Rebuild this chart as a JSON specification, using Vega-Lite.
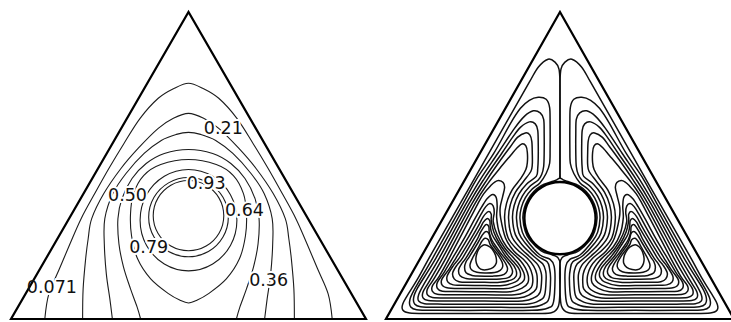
{
"$schema": "https://vega.github.io/schema/vega-lite/v6.json",
"background": "white",
"padding": {"left": 6, "top": 7, "right": 0, "bottom": 0},
"spacing": 10,
"config": {"view": {"stroke": null}},
"resolve": {"scale": {"x": "independent", "y": "independent"}},
"datasets": {
"frame": [{"g":"t","x":-176,"y":0},{"g":"t","x":176,"y":0},{"g":"t","x":0,"y":306}],
"lloops": [
{"g":"cyl","x":35,"y":103},{"g":"cyl","x":30.3,"y":120.5},{"g":"cyl","x":17.5,"y":133.3},{"g":"cyl","x":0,"y":138},{"g":"cyl","x":-17.5,"y":133.3},{"g":"cyl","x":-30.3,"y":120.5},{"g":"cyl","x":-35,"y":103},{"g":"cyl","x":-30.3,"y":85.5},{"g":"cyl","x":-17.5,"y":72.7},{"g":"cyl","x":0,"y":68},{"g":"cyl","x":17.5,"y":72.7},{"g":"cyl","x":30.3,"y":85.5},
{"g":"l93","x":39.5,"y":101.5},{"g":"l93","x":34.2,"y":121.3},{"g":"l93","x":19.75,"y":135.7},{"g":"l93","x":0,"y":141},{"g":"l93","x":-19.75,"y":135.7},{"g":"l93","x":-34.2,"y":121.3},{"g":"l93","x":-39.5,"y":101.5},{"g":"l93","x":-34.2,"y":81.8},{"g":"l93","x":-19.75,"y":67.3},{"g":"l93","x":0,"y":62},{"g":"l93","x":19.75,"y":67.3},{"g":"l93","x":34.2,"y":81.8},
{"g":"l79","x":48,"y":98.5},{"g":"l79","x":41.6,"y":123.8},{"g":"l79","x":24,"y":142.2},{"g":"l79","x":0,"y":149},{"g":"l79","x":-24,"y":142.2},{"g":"l79","x":-41.6,"y":123.8},{"g":"l79","x":-48,"y":98.5},{"g":"l79","x":-41.6,"y":73.3},{"g":"l79","x":-24,"y":54.8},{"g":"l79","x":0,"y":48},{"g":"l79","x":24,"y":54.8},{"g":"l79","x":41.6,"y":73.3},
{"g":"l64","x":0,"y":159},{"g":"l64","x":27.5,"y":154},{"g":"l64","x":44.5,"y":143},{"g":"l64","x":54.5,"y":125},{"g":"l64","x":57.5,"y":105},{"g":"l64","x":56.5,"y":83},{"g":"l64","x":50.5,"y":60},{"g":"l64","x":37.5,"y":40},{"g":"l64","x":19.5,"y":25},{"g":"l64","x":8,"y":18.5},{"g":"l64","x":0,"y":16},{"g":"l64","x":-8,"y":18.5},{"g":"l64","x":-19.5,"y":25},{"g":"l64","x":-37.5,"y":40},{"g":"l64","x":-50.5,"y":60},{"g":"l64","x":-56.5,"y":83},{"g":"l64","x":-57.5,"y":105},{"g":"l64","x":-54.5,"y":125},{"g":"l64","x":-44.5,"y":143},{"g":"l64","x":-27.5,"y":154}
],
"larch": [
{"g":"l071","x":-142.5,"y":0},{"g":"l071","x":-138.5,"y":25},{"g":"l071","x":-128,"y":50},{"g":"l071","x":-117.5,"y":75},{"g":"l071","x":-106.5,"y":100},{"g":"l071","x":-93,"y":125},{"g":"l071","x":-79,"y":150},{"g":"l071","x":-64,"y":175},{"g":"l071","x":-48,"y":200},{"g":"l071","x":-30,"y":220},{"g":"l071","x":-14,"y":230},{"g":"l071","x":0,"y":235},{"g":"l071","x":14,"y":230},{"g":"l071","x":30,"y":220},{"g":"l071","x":48,"y":200},{"g":"l071","x":64,"y":175},{"g":"l071","x":79,"y":150},{"g":"l071","x":93,"y":125},{"g":"l071","x":106.5,"y":100},{"g":"l071","x":117.5,"y":75},{"g":"l071","x":128,"y":50},{"g":"l071","x":138.5,"y":25},{"g":"l071","x":142.5,"y":0},
{"g":"l21","x":-105,"y":0},{"g":"l21","x":-104.5,"y":30},{"g":"l21","x":-102,"y":60},{"g":"l21","x":-99.5,"y":80},{"g":"l21","x":-96,"y":100},{"g":"l21","x":-84,"y":125},{"g":"l21","x":-67,"y":150},{"g":"l21","x":-50,"y":170},{"g":"l21","x":-30,"y":190},{"g":"l21","x":-15,"y":200},{"g":"l21","x":0,"y":205},{"g":"l21","x":15,"y":200},{"g":"l21","x":30,"y":190},{"g":"l21","x":50,"y":170},{"g":"l21","x":67,"y":150},{"g":"l21","x":84,"y":125},{"g":"l21","x":96,"y":100},{"g":"l21","x":99.5,"y":80},{"g":"l21","x":102,"y":60},{"g":"l21","x":104.5,"y":30},{"g":"l21","x":105,"y":0},
{"g":"l36","x":-75.5,"y":0},{"g":"l36","x":-78,"y":20},{"g":"l36","x":-81.5,"y":45},{"g":"l36","x":-83.5,"y":75},{"g":"l36","x":-83,"y":100},{"g":"l36","x":-75,"y":125},{"g":"l36","x":-62,"y":145},{"g":"l36","x":-44,"y":165},{"g":"l36","x":-27,"y":178},{"g":"l36","x":-12,"y":184},{"g":"l36","x":0,"y":186},{"g":"l36","x":12,"y":184},{"g":"l36","x":27,"y":178},{"g":"l36","x":44,"y":165},{"g":"l36","x":62,"y":145},{"g":"l36","x":75,"y":125},{"g":"l36","x":83,"y":100},{"g":"l36","x":83.5,"y":75},{"g":"l36","x":81.5,"y":45},{"g":"l36","x":78,"y":20},{"g":"l36","x":75.5,"y":0},
{"g":"l50","x":-47.5,"y":0},{"g":"l50","x":-51,"y":12},{"g":"l50","x":-57.5,"y":30},{"g":"l50","x":-64.5,"y":52},{"g":"l50","x":-69,"y":75},{"g":"l50","x":-70,"y":100},{"g":"l50","x":-66,"y":120},{"g":"l50","x":-56,"y":140},{"g":"l50","x":-42,"y":155},{"g":"l50","x":-24,"y":165},{"g":"l50","x":0,"y":169},{"g":"l50","x":24,"y":165},{"g":"l50","x":42,"y":155},{"g":"l50","x":56,"y":140},{"g":"l50","x":66,"y":120},{"g":"l50","x":70,"y":100},{"g":"l50","x":69,"y":75},{"g":"l50","x":64.5,"y":52},{"g":"l50","x":57.5,"y":30},{"g":"l50","x":51,"y":12},{"g":"l50","x":47.5,"y":0}
],
"llab": [
{"t":"0.21","x":34.5,"y":189.5},{"t":"0.93","x":17.5,"y":135},{"t":"0.50","x":-60.5,"y":123},{"t":"0.64","x":55.5,"y":108},{"t":"0.79","x":-39.5,"y":70.5},{"t":"0.071","x":-135.5,"y":30.5},{"t":"0.36","x":79.5,"y":37.5}
],
"rcyl": [
{"g":"c","x":36,"y":100.5},{"g":"c","x":31.2,"y":118.5},{"g":"c","x":18,"y":131.7},{"g":"c","x":0,"y":136.5},{"g":"c","x":-18,"y":131.7},{"g":"c","x":-31.2,"y":118.5},{"g":"c","x":-36,"y":100.5},{"g":"c","x":-31.2,"y":82.5},{"g":"c","x":-18,"y":69.3},{"g":"c","x":0,"y":64.5},{"g":"c","x":18,"y":69.3},{"g":"c","x":31.2,"y":82.5}
],
"rloops": [
{"g":"a0","x":-12,"y":259},{"g":"a0","x":-5,"y":256},{"g":"a0","x":-1,"y":249},{"g":"a0","x":0,"y":235},{"g":"a0","x":0,"y":190},{"g":"a0","x":0,"y":146},{"g":"a0","x":-2,"y":139.5},{"g":"a0","x":-8,"y":137},{"g":"a0","x":-19,"y":133},{"g":"a0","x":-26.5,"y":127},{"g":"a0","x":-32.5,"y":119},{"g":"a0","x":-36.2,"y":110.2},{"g":"a0","x":-37.5,"y":100.5},{"g":"a0","x":-35.2,"y":87.7},{"g":"a0","x":-30.7,"y":79},{"g":"a0","x":-19,"y":68},{"g":"a0","x":-8,"y":64},{"g":"a0","x":-2.5,"y":61.5},{"g":"a0","x":0,"y":55},{"g":"a0","x":0,"y":30},{"g":"a0","x":-1.5,"y":13},{"g":"a0","x":-8,"y":6.5},{"g":"a0","x":-25,"y":5.5},{"g":"a0","x":-76,"y":5.5},{"g":"a0","x":-130,"y":5.5},{"g":"a0","x":-152,"y":6},{"g":"a0","x":-159,"y":9},{"g":"a0","x":-159,"y":15},{"g":"a0","x":-154,"y":24},{"g":"a0","x":-144,"y":40},{"g":"a0","x":-130,"y":65},{"g":"a0","x":-101,"y":115},{"g":"a0","x":-72,"y":165},{"g":"a0","x":-49,"y":205},{"g":"a0","x":-31,"y":236},{"g":"a0","x":-22,"y":251},
{"g":"b0","x":12,"y":259},{"g":"b0","x":5,"y":256},{"g":"b0","x":1,"y":249},{"g":"b0","x":0,"y":235},{"g":"b0","x":0,"y":190},{"g":"b0","x":0,"y":146},{"g":"b0","x":2,"y":139.5},{"g":"b0","x":8,"y":137},{"g":"b0","x":19,"y":133},{"g":"b0","x":26.5,"y":127},{"g":"b0","x":32.5,"y":119},{"g":"b0","x":36.2,"y":110.2},{"g":"b0","x":37.5,"y":100.5},{"g":"b0","x":35.2,"y":87.7},{"g":"b0","x":30.7,"y":79},{"g":"b0","x":19,"y":68},{"g":"b0","x":8,"y":64},{"g":"b0","x":2.5,"y":61.5},{"g":"b0","x":0,"y":55},{"g":"b0","x":0,"y":30},{"g":"b0","x":1.5,"y":13},{"g":"b0","x":8,"y":6.5},{"g":"b0","x":25,"y":5.5},{"g":"b0","x":76,"y":5.5},{"g":"b0","x":130,"y":5.5},{"g":"b0","x":152,"y":6},{"g":"b0","x":159,"y":9},{"g":"b0","x":159,"y":15},{"g":"b0","x":154,"y":24},{"g":"b0","x":144,"y":40},{"g":"b0","x":130,"y":65},{"g":"b0","x":101,"y":115},{"g":"b0","x":72,"y":165},{"g":"b0","x":49,"y":205},{"g":"b0","x":31,"y":236},{"g":"b0","x":22,"y":251},
{"g":"a1","x":-22,"y":221},{"g":"a1","x":-14,"y":219},{"g":"a1","x":-10.5,"y":211},{"g":"a1","x":-10,"y":195},{"g":"a1","x":-10,"y":170},{"g":"a1","x":-10.5,"y":155},{"g":"a1","x":-14,"y":145},{"g":"a1","x":-20.3,"y":135.6},{"g":"a1","x":-28.6,"y":129.1},{"g":"a1","x":-35.1,"y":120.8},{"g":"a1","x":-39.1,"y":111},{"g":"a1","x":-40.5,"y":100.5},{"g":"a1","x":-38.1,"y":86.6},{"g":"a1","x":-32.8,"y":77.5},{"g":"a1","x":-20.5,"y":64},{"g":"a1","x":-10,"y":59.5},{"g":"a1","x":-6,"y":53},{"g":"a1","x":-5,"y":40},{"g":"a1","x":-6.5,"y":17},{"g":"a1","x":-12,"y":11},{"g":"a1","x":-28,"y":8.6},{"g":"a1","x":-76,"y":8.6},{"g":"a1","x":-125,"y":8.6},{"g":"a1","x":-145,"y":9.2},{"g":"a1","x":-151,"y":12},{"g":"a1","x":-152,"y":18},{"g":"a1","x":-148,"y":28},{"g":"a1","x":-128.6,"y":61},{"g":"a1","x":-98,"y":115},{"g":"a1","x":-84,"y":140},{"g":"a1","x":-67,"y":165},{"g":"a1","x":-50,"y":195},{"g":"a1","x":-40,"y":210},{"g":"a1","x":-31,"y":218},
{"g":"b1","x":22,"y":221},{"g":"b1","x":14,"y":219},{"g":"b1","x":10.5,"y":211},{"g":"b1","x":10,"y":195},{"g":"b1","x":10,"y":170},{"g":"b1","x":10.5,"y":155},{"g":"b1","x":14,"y":145},{"g":"b1","x":20.3,"y":135.6},{"g":"b1","x":28.6,"y":129.1},{"g":"b1","x":35.1,"y":120.8},{"g":"b1","x":39.1,"y":111},{"g":"b1","x":40.5,"y":100.5},{"g":"b1","x":38.1,"y":86.6},{"g":"b1","x":32.8,"y":77.5},{"g":"b1","x":20.5,"y":64},{"g":"b1","x":10,"y":59.5},{"g":"b1","x":6,"y":53},{"g":"b1","x":5,"y":40},{"g":"b1","x":6.5,"y":17},{"g":"b1","x":12,"y":11},{"g":"b1","x":28,"y":8.6},{"g":"b1","x":76,"y":8.6},{"g":"b1","x":125,"y":8.6},{"g":"b1","x":145,"y":9.2},{"g":"b1","x":151,"y":12},{"g":"b1","x":152,"y":18},{"g":"b1","x":148,"y":28},{"g":"b1","x":128.6,"y":61},{"g":"b1","x":98,"y":115},{"g":"b1","x":84,"y":140},{"g":"b1","x":67,"y":165},{"g":"b1","x":50,"y":195},{"g":"b1","x":40,"y":210},{"g":"b1","x":31,"y":218},
{"g":"a2","x":-27,"y":207.5},{"g":"a2","x":-20,"y":205.5},{"g":"a2","x":-16.5,"y":199},{"g":"a2","x":-16,"y":185},{"g":"a2","x":-16,"y":165},{"g":"a2","x":-16.5,"y":152},{"g":"a2","x":-18.5,"y":144},{"g":"a2","x":-22,"y":138.6},{"g":"a2","x":-31.1,"y":131.6},{"g":"a2","x":-38.1,"y":122.5},{"g":"a2","x":-42.5,"y":111.9},{"g":"a2","x":-44,"y":100.5},{"g":"a2","x":-41.4,"y":85.5},{"g":"a2","x":-35.2,"y":75.8},{"g":"a2","x":-23,"y":63},{"g":"a2","x":-13,"y":57},{"g":"a2","x":-10.5,"y":50},{"g":"a2","x":-9.5,"y":40},{"g":"a2","x":-11,"y":21},{"g":"a2","x":-16.5,"y":15},{"g":"a2","x":-31,"y":11.7},{"g":"a2","x":-76,"y":11.7},{"g":"a2","x":-122,"y":11.7},{"g":"a2","x":-141,"y":12.3},{"g":"a2","x":-147,"y":15},{"g":"a2","x":-148,"y":21},{"g":"a2","x":-144,"y":31},{"g":"a2","x":-125.3,"y":61},{"g":"a2","x":-95,"y":115},{"g":"a2","x":-80,"y":140},{"g":"a2","x":-63,"y":165},{"g":"a2","x":-46,"y":190},{"g":"a2","x":-36,"y":202},
{"g":"b2","x":27,"y":207.5},{"g":"b2","x":20,"y":205.5},{"g":"b2","x":16.5,"y":199},{"g":"b2","x":16,"y":185},{"g":"b2","x":16,"y":165},{"g":"b2","x":16.5,"y":152},{"g":"b2","x":18.5,"y":144},{"g":"b2","x":22,"y":138.6},{"g":"b2","x":31.1,"y":131.6},{"g":"b2","x":38.1,"y":122.5},{"g":"b2","x":42.5,"y":111.9},{"g":"b2","x":44,"y":100.5},{"g":"b2","x":41.4,"y":85.5},{"g":"b2","x":35.2,"y":75.8},{"g":"b2","x":23,"y":63},{"g":"b2","x":13,"y":57},{"g":"b2","x":10.5,"y":50},{"g":"b2","x":9.5,"y":40},{"g":"b2","x":11,"y":21},{"g":"b2","x":16.5,"y":15},{"g":"b2","x":31,"y":11.7},{"g":"b2","x":76,"y":11.7},{"g":"b2","x":122,"y":11.7},{"g":"b2","x":141,"y":12.3},{"g":"b2","x":147,"y":15},{"g":"b2","x":148,"y":21},{"g":"b2","x":144,"y":31},{"g":"b2","x":125.3,"y":61},{"g":"b2","x":95,"y":115},{"g":"b2","x":80,"y":140},{"g":"b2","x":63,"y":165},{"g":"b2","x":46,"y":190},{"g":"b2","x":36,"y":202},
{"g":"a3","x":-31,"y":196.5},{"g":"a3","x":-25,"y":194.5},{"g":"a3","x":-22.5,"y":188},{"g":"a3","x":-22,"y":175},{"g":"a3","x":-22,"y":160},{"g":"a3","x":-22.5,"y":150},{"g":"a3","x":-24,"y":142.1},{"g":"a3","x":-33.9,"y":134.4},{"g":"a3","x":-41.6,"y":124.5},{"g":"a3","x":-46.4,"y":112.9},{"g":"a3","x":-48,"y":100.5},{"g":"a3","x":-45.1,"y":84.1},{"g":"a3","x":-38.1,"y":73.8},{"g":"a3","x":-26,"y":62},{"g":"a3","x":-17.5,"y":55},{"g":"a3","x":-14.5,"y":48},{"g":"a3","x":-14,"y":40},{"g":"a3","x":-15.5,"y":24},{"g":"a3","x":-21,"y":18.3},{"g":"a3","x":-34,"y":14.8},{"g":"a3","x":-76,"y":14.8},{"g":"a3","x":-118,"y":14.8},{"g":"a3","x":-137,"y":15.3},{"g":"a3","x":-143,"y":18},{"g":"a3","x":-143,"y":24},{"g":"a3","x":-138,"y":34},{"g":"a3","x":-121.9,"y":61},{"g":"a3","x":-92,"y":115},{"g":"a3","x":-76.5,"y":140},{"g":"a3","x":-59,"y":165},{"g":"a3","x":-48,"y":181},{"g":"a3","x":-40,"y":191},
{"g":"b3","x":31,"y":196.5},{"g":"b3","x":25,"y":194.5},{"g":"b3","x":22.5,"y":188},{"g":"b3","x":22,"y":175},{"g":"b3","x":22,"y":160},{"g":"b3","x":22.5,"y":150},{"g":"b3","x":24,"y":142.1},{"g":"b3","x":33.9,"y":134.4},{"g":"b3","x":41.6,"y":124.5},{"g":"b3","x":46.4,"y":112.9},{"g":"b3","x":48,"y":100.5},{"g":"b3","x":45.1,"y":84.1},{"g":"b3","x":38.1,"y":73.8},{"g":"b3","x":26,"y":62},{"g":"b3","x":17.5,"y":55},{"g":"b3","x":14.5,"y":48},{"g":"b3","x":14,"y":40},{"g":"b3","x":15.5,"y":24},{"g":"b3","x":21,"y":18.3},{"g":"b3","x":34,"y":14.8},{"g":"b3","x":76,"y":14.8},{"g":"b3","x":118,"y":14.8},{"g":"b3","x":137,"y":15.3},{"g":"b3","x":143,"y":18},{"g":"b3","x":143,"y":24},{"g":"b3","x":138,"y":34},{"g":"b3","x":121.9,"y":61},{"g":"b3","x":92,"y":115},{"g":"b3","x":76.5,"y":140},{"g":"b3","x":59,"y":165},{"g":"b3","x":48,"y":181},{"g":"b3","x":40,"y":191},
{"g":"a4","x":-35,"y":185.5},{"g":"a4","x":-30.5,"y":183.5},{"g":"a4","x":-28.5,"y":177},{"g":"a4","x":-28,"y":165},{"g":"a4","x":-28,"y":154},{"g":"a4","x":-29.5,"y":147},{"g":"a4","x":-36.8,"y":137.3},{"g":"a4","x":-45,"y":126.5},{"g":"a4","x":-50.2,"y":114},{"g":"a4","x":-52,"y":100.5},{"g":"a4","x":-48.9,"y":82.7},{"g":"a4","x":-41,"y":71.8},{"g":"a4","x":-29.5,"y":61},{"g":"a4","x":-22,"y":53.5},{"g":"a4","x":-19,"y":46},{"g":"a4","x":-18.5,"y":40},{"g":"a4","x":-20,"y":27},{"g":"a4","x":-25.5,"y":21.5},{"g":"a4","x":-38,"y":17.9},{"g":"a4","x":-76,"y":17.9},{"g":"a4","x":-115,"y":17.9},{"g":"a4","x":-133,"y":18.4},{"g":"a4","x":-138.5,"y":21},{"g":"a4","x":-138.5,"y":27},{"g":"a4","x":-132.5,"y":37},{"g":"a4","x":-118.6,"y":61},{"g":"a4","x":-89,"y":115},{"g":"a4","x":-73,"y":140},{"g":"a4","x":-59,"y":160},{"g":"a4","x":-50,"y":172},{"g":"a4","x":-43,"y":181},
{"g":"b4","x":35,"y":185.5},{"g":"b4","x":30.5,"y":183.5},{"g":"b4","x":28.5,"y":177},{"g":"b4","x":28,"y":165},{"g":"b4","x":28,"y":154},{"g":"b4","x":29.5,"y":147},{"g":"b4","x":36.8,"y":137.3},{"g":"b4","x":45,"y":126.5},{"g":"b4","x":50.2,"y":114},{"g":"b4","x":52,"y":100.5},{"g":"b4","x":48.9,"y":82.7},{"g":"b4","x":41,"y":71.8},{"g":"b4","x":29.5,"y":61},{"g":"b4","x":22,"y":53.5},{"g":"b4","x":19,"y":46},{"g":"b4","x":18.5,"y":40},{"g":"b4","x":20,"y":27},{"g":"b4","x":25.5,"y":21.5},{"g":"b4","x":38,"y":17.9},{"g":"b4","x":76,"y":17.9},{"g":"b4","x":115,"y":17.9},{"g":"b4","x":133,"y":18.4},{"g":"b4","x":138.5,"y":21},{"g":"b4","x":138.5,"y":27},{"g":"b4","x":132.5,"y":37},{"g":"b4","x":118.6,"y":61},{"g":"b4","x":89,"y":115},{"g":"b4","x":73,"y":140},{"g":"b4","x":59,"y":160},{"g":"b4","x":50,"y":172},{"g":"b4","x":43,"y":181},
{"g":"a5","x":-38.5,"y":174.5},{"g":"a5","x":-34.5,"y":172.5},{"g":"a5","x":-33,"y":166},{"g":"a5","x":-33,"y":156},{"g":"a5","x":-34.5,"y":149},{"g":"a5","x":-39.6,"y":140.1},{"g":"a5","x":-48.5,"y":128.5},{"g":"a5","x":-54.1,"y":115},{"g":"a5","x":-56,"y":100.5},{"g":"a5","x":-52.6,"y":81.3},{"g":"a5","x":-43.8,"y":69.8},{"g":"a5","x":-33,"y":60.5},{"g":"a5","x":-26.5,"y":52.5},{"g":"a5","x":-23.5,"y":45},{"g":"a5","x":-23,"y":38},{"g":"a5","x":-24,"y":30},{"g":"a5","x":-30,"y":24.7},{"g":"a5","x":-42,"y":21},{"g":"a5","x":-76,"y":21},{"g":"a5","x":-112,"y":21},{"g":"a5","x":-129,"y":21.5},{"g":"a5","x":-134,"y":24},{"g":"a5","x":-134,"y":30},{"g":"a5","x":-127.5,"y":40},{"g":"a5","x":-115.2,"y":61},{"g":"a5","x":-86,"y":115},{"g":"a5","x":-73,"y":135},{"g":"a5","x":-61,"y":150},{"g":"a5","x":-50,"y":163},{"g":"a5","x":-44,"y":170},
{"g":"b5","x":38.5,"y":174.5},{"g":"b5","x":34.5,"y":172.5},{"g":"b5","x":33,"y":166},{"g":"b5","x":33,"y":156},{"g":"b5","x":34.5,"y":149},{"g":"b5","x":39.6,"y":140.1},{"g":"b5","x":48.5,"y":128.5},{"g":"b5","x":54.1,"y":115},{"g":"b5","x":56,"y":100.5},{"g":"b5","x":52.6,"y":81.3},{"g":"b5","x":43.8,"y":69.8},{"g":"b5","x":33,"y":60.5},{"g":"b5","x":26.5,"y":52.5},{"g":"b5","x":23.5,"y":45},{"g":"b5","x":23,"y":38},{"g":"b5","x":24,"y":30},{"g":"b5","x":30,"y":24.7},{"g":"b5","x":42,"y":21},{"g":"b5","x":76,"y":21},{"g":"b5","x":112,"y":21},{"g":"b5","x":129,"y":21.5},{"g":"b5","x":134,"y":24},{"g":"b5","x":134,"y":30},{"g":"b5","x":127.5,"y":40},{"g":"b5","x":115.2,"y":61},{"g":"b5","x":86,"y":115},{"g":"b5","x":73,"y":135},{"g":"b5","x":61,"y":150},{"g":"b5","x":50,"y":163},{"g":"b5","x":44,"y":170},
{"g":"a6","x":-62,"y":138},{"g":"a6","x":-57.5,"y":136},{"g":"a6","x":-56,"y":131},{"g":"a6","x":-58,"y":122},{"g":"a6","x":-60.5,"y":111},{"g":"a6","x":-60,"y":100.5},{"g":"a6","x":-55,"y":80.5},{"g":"a6","x":-46.7,"y":67.8},{"g":"a6","x":-37,"y":59.5},{"g":"a6","x":-31,"y":52},{"g":"a6","x":-28,"y":44},{"g":"a6","x":-27.5,"y":37},{"g":"a6","x":-29,"y":31.5},{"g":"a6","x":-34,"y":27.5},{"g":"a6","x":-46,"y":24.1},{"g":"a6","x":-76,"y":24.1},{"g":"a6","x":-109,"y":24.1},{"g":"a6","x":-124,"y":24.6},{"g":"a6","x":-129,"y":27.5},{"g":"a6","x":-129,"y":33},{"g":"a6","x":-122.5,"y":42},{"g":"a6","x":-111.8,"y":61},{"g":"a6","x":-91,"y":100},{"g":"a6","x":-83,"y":115},{"g":"a6","x":-77,"y":125},{"g":"a6","x":-70,"y":133},{"g":"a6","x":-66,"y":136.5},
{"g":"b6","x":62,"y":138},{"g":"b6","x":57.5,"y":136},{"g":"b6","x":56,"y":131},{"g":"b6","x":58,"y":122},{"g":"b6","x":60.5,"y":111},{"g":"b6","x":60,"y":100.5},{"g":"b6","x":55,"y":80.5},{"g":"b6","x":46.7,"y":67.8},{"g":"b6","x":37,"y":59.5},{"g":"b6","x":31,"y":52},{"g":"b6","x":28,"y":44},{"g":"b6","x":27.5,"y":37},{"g":"b6","x":29,"y":31.5},{"g":"b6","x":34,"y":27.5},{"g":"b6","x":46,"y":24.1},{"g":"b6","x":76,"y":24.1},{"g":"b6","x":109,"y":24.1},{"g":"b6","x":124,"y":24.6},{"g":"b6","x":129,"y":27.5},{"g":"b6","x":129,"y":33},{"g":"b6","x":122.5,"y":42},{"g":"b6","x":111.8,"y":61},{"g":"b6","x":91,"y":100},{"g":"b6","x":83,"y":115},{"g":"b6","x":77,"y":125},{"g":"b6","x":70,"y":133},{"g":"b6","x":66,"y":136.5},
{"g":"a7","x":-68,"y":124},{"g":"a7","x":-64.5,"y":121},{"g":"a7","x":-63.5,"y":112},{"g":"a7","x":-64,"y":100.5},{"g":"a7","x":-61,"y":85},{"g":"a7","x":-54,"y":72},{"g":"a7","x":-45,"y":63},{"g":"a7","x":-40,"y":58},{"g":"a7","x":-35,"y":51},{"g":"a7","x":-32,"y":43},{"g":"a7","x":-32.5,"y":36},{"g":"a7","x":-38,"y":31},{"g":"a7","x":-50,"y":27.2},{"g":"a7","x":-76,"y":27.2},{"g":"a7","x":-106,"y":27.3},{"g":"a7","x":-119,"y":27.7},{"g":"a7","x":-124,"y":30.5},{"g":"a7","x":-124,"y":36.5},{"g":"a7","x":-117.5,"y":46},{"g":"a7","x":-108.5,"y":61},{"g":"a7","x":-97,"y":80},{"g":"a7","x":-86,"y":100},{"g":"a7","x":-79,"y":112},{"g":"a7","x":-73.5,"y":120},
{"g":"b7","x":68,"y":124},{"g":"b7","x":64.5,"y":121},{"g":"b7","x":63.5,"y":112},{"g":"b7","x":64,"y":100.5},{"g":"b7","x":61,"y":85},{"g":"b7","x":54,"y":72},{"g":"b7","x":45,"y":63},{"g":"b7","x":40,"y":58},{"g":"b7","x":35,"y":51},{"g":"b7","x":32,"y":43},{"g":"b7","x":32.5,"y":36},{"g":"b7","x":38,"y":31},{"g":"b7","x":50,"y":27.2},{"g":"b7","x":76,"y":27.2},{"g":"b7","x":106,"y":27.3},{"g":"b7","x":119,"y":27.7},{"g":"b7","x":124,"y":30.5},{"g":"b7","x":124,"y":36.5},{"g":"b7","x":117.5,"y":46},{"g":"b7","x":108.5,"y":61},{"g":"b7","x":97,"y":80},{"g":"b7","x":86,"y":100},{"g":"b7","x":79,"y":112},{"g":"b7","x":73.5,"y":120},
{"g":"a8","x":-71,"y":115},{"g":"a8","x":-67.5,"y":112.5},{"g":"a8","x":-66.5,"y":106},{"g":"a8","x":-67.5,"y":97},{"g":"a8","x":-63.5,"y":84},{"g":"a8","x":-56,"y":71},{"g":"a8","x":-48,"y":62},{"g":"a8","x":-43,"y":56.5},{"g":"a8","x":-38.5,"y":50},{"g":"a8","x":-36,"y":44},{"g":"a8","x":-36.5,"y":38.5},{"g":"a8","x":-42,"y":34},{"g":"a8","x":-54,"y":30.3},{"g":"a8","x":-76,"y":30.3},{"g":"a8","x":-100,"y":30.5},{"g":"a8","x":-113,"y":30.8},{"g":"a8","x":-119,"y":33.5},{"g":"a8","x":-119.5,"y":39.5},{"g":"a8","x":-112,"y":50},{"g":"a8","x":-105.1,"y":61},{"g":"a8","x":-93.5,"y":80},{"g":"a8","x":-85,"y":95},{"g":"a8","x":-79.5,"y":105},{"g":"a8","x":-75,"y":112},
{"g":"b8","x":71,"y":115},{"g":"b8","x":67.5,"y":112.5},{"g":"b8","x":66.5,"y":106},{"g":"b8","x":67.5,"y":97},{"g":"b8","x":63.5,"y":84},{"g":"b8","x":56,"y":71},{"g":"b8","x":48,"y":62},{"g":"b8","x":43,"y":56.5},{"g":"b8","x":38.5,"y":50},{"g":"b8","x":36,"y":44},{"g":"b8","x":36.5,"y":38.5},{"g":"b8","x":42,"y":34},{"g":"b8","x":54,"y":30.3},{"g":"b8","x":76,"y":30.3},{"g":"b8","x":100,"y":30.5},{"g":"b8","x":113,"y":30.8},{"g":"b8","x":119,"y":33.5},{"g":"b8","x":119.5,"y":39.5},{"g":"b8","x":112,"y":50},{"g":"b8","x":105.1,"y":61},{"g":"b8","x":93.5,"y":80},{"g":"b8","x":85,"y":95},{"g":"b8","x":79.5,"y":105},{"g":"b8","x":75,"y":112},
{"g":"a9","x":-72.5,"y":107},{"g":"a9","x":-69.5,"y":104.5},{"g":"a9","x":-69.5,"y":98},{"g":"a9","x":-67,"y":87},{"g":"a9","x":-61,"y":75},{"g":"a9","x":-52,"y":62.5},{"g":"a9","x":-47,"y":57},{"g":"a9","x":-42,"y":51},{"g":"a9","x":-40,"y":46},{"g":"a9","x":-40.5,"y":41.5},{"g":"a9","x":-45,"y":37},{"g":"a9","x":-58,"y":33.4},{"g":"a9","x":-76,"y":33.4},{"g":"a9","x":-100,"y":33.6},{"g":"a9","x":-108,"y":34},{"g":"a9","x":-113.5,"y":37},{"g":"a9","x":-114,"y":43},{"g":"a9","x":-108,"y":53},{"g":"a9","x":-101.8,"y":61},{"g":"a9","x":-90,"y":80},{"g":"a9","x":-83,"y":92},{"g":"a9","x":-77.5,"y":102},
{"g":"b9","x":72.5,"y":107},{"g":"b9","x":69.5,"y":104.5},{"g":"b9","x":69.5,"y":98},{"g":"b9","x":67,"y":87},{"g":"b9","x":61,"y":75},{"g":"b9","x":52,"y":62.5},{"g":"b9","x":47,"y":57},{"g":"b9","x":42,"y":51},{"g":"b9","x":40,"y":46},{"g":"b9","x":40.5,"y":41.5},{"g":"b9","x":45,"y":37},{"g":"b9","x":58,"y":33.4},{"g":"b9","x":76,"y":33.4},{"g":"b9","x":100,"y":33.6},{"g":"b9","x":108,"y":34},{"g":"b9","x":113.5,"y":37},{"g":"b9","x":114,"y":43},{"g":"b9","x":108,"y":53},{"g":"b9","x":101.8,"y":61},{"g":"b9","x":90,"y":80},{"g":"b9","x":83,"y":92},{"g":"b9","x":77.5,"y":102},
{"g":"a10","x":-74,"y":100},{"g":"a10","x":-71,"y":98},{"g":"a10","x":-70.5,"y":92},{"g":"a10","x":-68.5,"y":84},{"g":"a10","x":-63,"y":75},{"g":"a10","x":-56,"y":64},{"g":"a10","x":-51,"y":58},{"g":"a10","x":-46,"y":52},{"g":"a10","x":-44,"y":47},{"g":"a10","x":-44.5,"y":42.5},{"g":"a10","x":-49,"y":39},{"g":"a10","x":-61,"y":36.5},{"g":"a10","x":-76,"y":36.5},{"g":"a10","x":-96,"y":36.7},{"g":"a10","x":-102,"y":37.1},{"g":"a10","x":-107,"y":40},{"g":"a10","x":-108.5,"y":46},{"g":"a10","x":-104,"y":54},{"g":"a10","x":-98.4,"y":61},{"g":"a10","x":-87,"y":80},{"g":"a10","x":-81,"y":90},{"g":"a10","x":-77.5,"y":96.5},
{"g":"b10","x":74,"y":100},{"g":"b10","x":71,"y":98},{"g":"b10","x":70.5,"y":92},{"g":"b10","x":68.5,"y":84},{"g":"b10","x":63,"y":75},{"g":"b10","x":56,"y":64},{"g":"b10","x":51,"y":58},{"g":"b10","x":46,"y":52},{"g":"b10","x":44,"y":47},{"g":"b10","x":44.5,"y":42.5},{"g":"b10","x":49,"y":39},{"g":"b10","x":61,"y":36.5},{"g":"b10","x":76,"y":36.5},{"g":"b10","x":96,"y":36.7},{"g":"b10","x":102,"y":37.1},{"g":"b10","x":107,"y":40},{"g":"b10","x":108.5,"y":46},{"g":"b10","x":104,"y":54},{"g":"b10","x":98.4,"y":61},{"g":"b10","x":87,"y":80},{"g":"b10","x":81,"y":90},{"g":"b10","x":77.5,"y":96.5},
{"g":"a11","x":-75,"y":94},{"g":"a11","x":-72,"y":92},{"g":"a11","x":-71.5,"y":86},{"g":"a11","x":-69,"y":79},{"g":"a11","x":-64.5,"y":72},{"g":"a11","x":-59,"y":64.5},{"g":"a11","x":-54.5,"y":59},{"g":"a11","x":-50,"y":53},{"g":"a11","x":-48,"y":48},{"g":"a11","x":-49,"y":44},{"g":"a11","x":-53,"y":41},{"g":"a11","x":-64,"y":39.6},{"g":"a11","x":-76,"y":39.6},{"g":"a11","x":-90,"y":39.8},{"g":"a11","x":-95,"y":40.3},{"g":"a11","x":-101,"y":43},{"g":"a11","x":-102.5,"y":49},{"g":"a11","x":-99.5,"y":55},{"g":"a11","x":-95,"y":61},{"g":"a11","x":-84.5,"y":78},{"g":"a11","x":-80,"y":87},
{"g":"b11","x":75,"y":94},{"g":"b11","x":72,"y":92},{"g":"b11","x":71.5,"y":86},{"g":"b11","x":69,"y":79},{"g":"b11","x":64.5,"y":72},{"g":"b11","x":59,"y":64.5},{"g":"b11","x":54.5,"y":59},{"g":"b11","x":50,"y":53},{"g":"b11","x":48,"y":48},{"g":"b11","x":49,"y":44},{"g":"b11","x":53,"y":41},{"g":"b11","x":64,"y":39.6},{"g":"b11","x":76,"y":39.6},{"g":"b11","x":90,"y":39.8},{"g":"b11","x":95,"y":40.3},{"g":"b11","x":101,"y":43},{"g":"b11","x":102.5,"y":49},{"g":"b11","x":99.5,"y":55},{"g":"b11","x":95,"y":61},{"g":"b11","x":84.5,"y":78},{"g":"b11","x":80,"y":87},
{"g":"a12","x":-75.5,"y":87},{"g":"a12","x":-72,"y":85.5},{"g":"a12","x":-70.5,"y":80},{"g":"a12","x":-68,"y":74},{"g":"a12","x":-62.5,"y":66.5},{"g":"a12","x":-58,"y":60},{"g":"a12","x":-54.5,"y":54.5},{"g":"a12","x":-53,"y":50},{"g":"a12","x":-54.5,"y":46},{"g":"a12","x":-59,"y":43.5},{"g":"a12","x":-68,"y":42.7},{"g":"a12","x":-76,"y":42.7},{"g":"a12","x":-84,"y":42.9},{"g":"a12","x":-89,"y":43.4},{"g":"a12","x":-95,"y":46},{"g":"a12","x":-96.5,"y":51.5},{"g":"a12","x":-95,"y":57},{"g":"a12","x":-91.7,"y":62},{"g":"a12","x":-83,"y":76},{"g":"a12","x":-79,"y":83},
{"g":"b12","x":75.5,"y":87},{"g":"b12","x":72,"y":85.5},{"g":"b12","x":70.5,"y":80},{"g":"b12","x":68,"y":74},{"g":"b12","x":62.5,"y":66.5},{"g":"b12","x":58,"y":60},{"g":"b12","x":54.5,"y":54.5},{"g":"b12","x":53,"y":50},{"g":"b12","x":54.5,"y":46},{"g":"b12","x":59,"y":43.5},{"g":"b12","x":68,"y":42.7},{"g":"b12","x":76,"y":42.7},{"g":"b12","x":84,"y":42.9},{"g":"b12","x":89,"y":43.4},{"g":"b12","x":95,"y":46},{"g":"b12","x":96.5,"y":51.5},{"g":"b12","x":95,"y":57},{"g":"b12","x":91.7,"y":62},{"g":"b12","x":83,"y":76},{"g":"b12","x":79,"y":83},
{"g":"a13","x":-76,"y":80.5},{"g":"a13","x":-72.5,"y":79},{"g":"a13","x":-70.5,"y":74},{"g":"a13","x":-66,"y":68},{"g":"a13","x":-61.5,"y":62},{"g":"a13","x":-58.5,"y":56.5},{"g":"a13","x":-58,"y":52},{"g":"a13","x":-60.5,"y":48.5},{"g":"a13","x":-66,"y":46.3},{"g":"a13","x":-76,"y":45.8},{"g":"a13","x":-84,"y":46.5},{"g":"a13","x":-89.5,"y":49},{"g":"a13","x":-91,"y":54},{"g":"a13","x":-88.3,"y":61},{"g":"a13","x":-82,"y":72},{"g":"a13","x":-79,"y":77.5},
{"g":"b13","x":76,"y":80.5},{"g":"b13","x":72.5,"y":79},{"g":"b13","x":70.5,"y":74},{"g":"b13","x":66,"y":68},{"g":"b13","x":61.5,"y":62},{"g":"b13","x":58.5,"y":56.5},{"g":"b13","x":58,"y":52},{"g":"b13","x":60.5,"y":48.5},{"g":"b13","x":66,"y":46.3},{"g":"b13","x":76,"y":45.8},{"g":"b13","x":84,"y":46.5},{"g":"b13","x":89.5,"y":49},{"g":"b13","x":91,"y":54},{"g":"b13","x":88.3,"y":61},{"g":"b13","x":82,"y":72},{"g":"b13","x":79,"y":77.5},
{"g":"a14","x":-76,"y":74},{"g":"a14","x":-70.5,"y":71.5},{"g":"a14","x":-66.5,"y":66.5},{"g":"a14","x":-64.5,"y":61},{"g":"a14","x":-64.5,"y":55.5},{"g":"a14","x":-67.5,"y":51.5},{"g":"a14","x":-73,"y":49.3},{"g":"a14","x":-78,"y":49},{"g":"a14","x":-82,"y":51},{"g":"a14","x":-84.5,"y":55.5},{"g":"a14","x":-85,"y":61},{"g":"a14","x":-83,"y":68},{"g":"a14","x":-80,"y":72},
{"g":"b14","x":76,"y":74},{"g":"b14","x":70.5,"y":71.5},{"g":"b14","x":66.5,"y":66.5},{"g":"b14","x":64.5,"y":61},{"g":"b14","x":64.5,"y":55.5},{"g":"b14","x":67.5,"y":51.5},{"g":"b14","x":73,"y":49.3},{"g":"b14","x":78,"y":49},{"g":"b14","x":82,"y":51},{"g":"b14","x":84.5,"y":55.5},{"g":"b14","x":85,"y":61},{"g":"b14","x":83,"y":68},{"g":"b14","x":80,"y":72}
]
},
"hconcat": [
{
"width": 363, "height": 315,
"layer": [
{"data": {"name": "larch"}, "mark": {"type": "line", "interpolate": "cardinal", "color": "#1c1c1c", "strokeWidth": 1.1},
 "encoding": {"x": {"field": "x", "type": "quantitative", "scale": {"domain": [-180, 180], "nice": false, "zero": false}, "axis": null},
  "y": {"field": "y", "type": "quantitative", "scale": {"domain": [-4, 310], "nice": false, "zero": false}, "axis": null},
  "detail": {"field": "g"}, "order": {"value": null}}},
{"data": {"name": "lloops"}, "mark": {"type": "line", "interpolate": "cardinal-closed", "color": "#1c1c1c", "strokeWidth": 1.1},
 "encoding": {"x": {"field": "x", "type": "quantitative", "scale": {"domain": [-180, 180], "nice": false, "zero": false}, "axis": null},
  "y": {"field": "y", "type": "quantitative", "scale": {"domain": [-4, 310], "nice": false, "zero": false}, "axis": null},
  "detail": {"field": "g"}, "order": {"value": null}}},
{"data": {"name": "llab"}, "mark": {"type": "text", "font": "DejaVu Sans", "fontSize": 17.5, "align": "center", "baseline": "middle", "fill": "white", "stroke": "white", "strokeWidth": 4, "strokeJoin": "round"},
 "encoding": {"x": {"field": "x", "type": "quantitative", "scale": {"domain": [-180, 180], "nice": false, "zero": false}, "axis": null},
  "y": {"field": "y", "type": "quantitative", "scale": {"domain": [-4, 310], "nice": false, "zero": false}, "axis": null},
  "text": {"field": "t"}}},
{"data": {"name": "frame"}, "mark": {"type": "line", "interpolate": "linear-closed", "color": "black", "strokeWidth": 2.2},
 "encoding": {"x": {"field": "x", "type": "quantitative", "scale": {"domain": [-180, 180], "nice": false, "zero": false}, "axis": null},
  "y": {"field": "y", "type": "quantitative", "scale": {"domain": [-4, 310], "nice": false, "zero": false}, "axis": null},
  "detail": {"field": "g"}, "order": {"value": null}}},
{"data": {"name": "llab"}, "mark": {"type": "text", "font": "DejaVu Sans", "fontSize": 17.5, "align": "center", "baseline": "middle", "color": "#111111"},
 "encoding": {"x": {"field": "x", "type": "quantitative", "scale": {"domain": [-180, 180], "nice": false, "zero": false}, "axis": null},
  "y": {"field": "y", "type": "quantitative", "scale": {"domain": [-4, 310], "nice": false, "zero": false}, "axis": null},
  "text": {"field": "t"}}}
]
},
{
"width": 352, "height": 315,
"layer": [
{"data": {"name": "rloops"}, "mark": {"type": "line", "interpolate": "cardinal-closed", "color": "#111111", "strokeWidth": 1.5},
 "encoding": {"x": {"field": "x", "type": "quantitative", "scale": {"domain": [-180, 176], "nice": false, "zero": false}, "axis": null},
  "y": {"field": "y", "type": "quantitative", "scale": {"domain": [-4, 310], "nice": false, "zero": false}, "axis": null},
  "detail": {"field": "g"}, "order": {"value": null}}},
{"data": {"name": "rcyl"}, "mark": {"type": "line", "interpolate": "cardinal-closed", "color": "black", "strokeWidth": 2.4},
 "encoding": {"x": {"field": "x", "type": "quantitative", "scale": {"domain": [-180, 176], "nice": false, "zero": false}, "axis": null},
  "y": {"field": "y", "type": "quantitative", "scale": {"domain": [-4, 310], "nice": false, "zero": false}, "axis": null},
  "detail": {"field": "g"}, "order": {"value": null}}},
{"data": {"name": "frame"}, "mark": {"type": "line", "interpolate": "linear-closed", "color": "black", "strokeWidth": 2.2},
 "encoding": {"x": {"field": "x", "type": "quantitative", "scale": {"domain": [-180, 176], "nice": false, "zero": false}, "axis": null},
  "y": {"field": "y", "type": "quantitative", "scale": {"domain": [-4, 310], "nice": false, "zero": false}, "axis": null},
  "detail": {"field": "g"}, "order": {"value": null}}}
]
}
]
}
